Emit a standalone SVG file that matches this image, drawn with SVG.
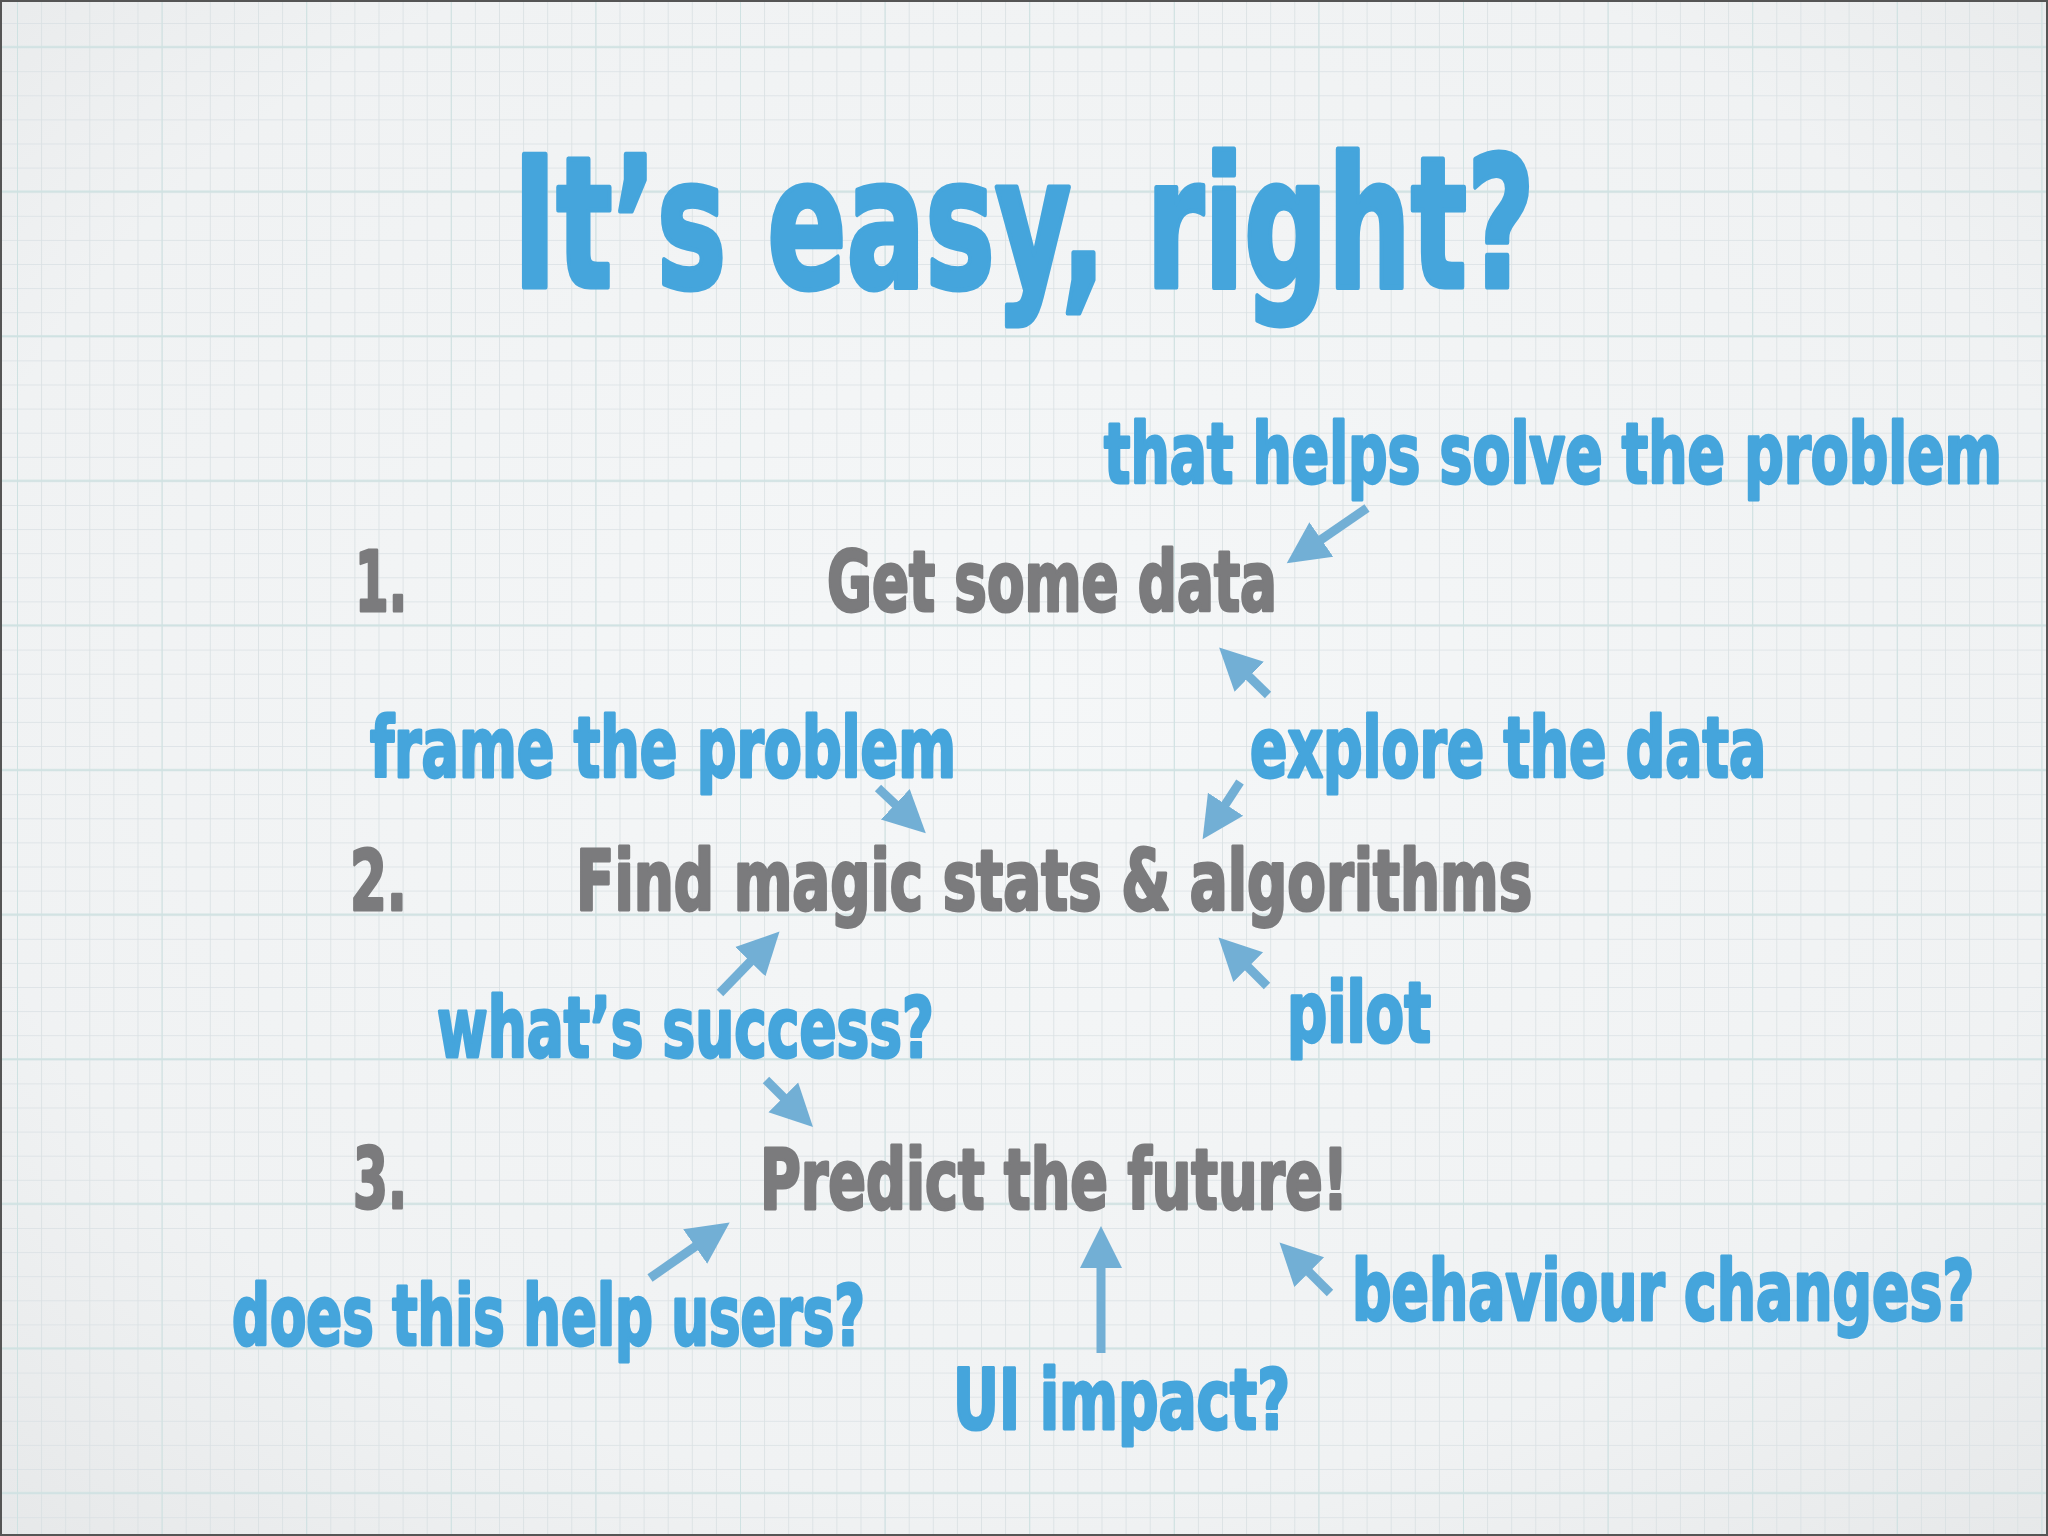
<svg xmlns="http://www.w3.org/2000/svg" width="2048" height="1536" viewBox="0 0 2048 1536">
<defs>
<radialGradient id="bg" cx="50%" cy="45%" r="75%">
<stop offset="0" stop-color="#f5f7f8"/>
<stop offset="0.7" stop-color="#f0f2f3"/>
<stop offset="1" stop-color="#e6e8e9"/>
</radialGradient>
<pattern id="minor" patternUnits="userSpaceOnUse" x="17" y="23" width="24.1" height="24.1">
<path d="M0,0 V24.1 M0,0 H24.1" stroke="#d9e0e3" stroke-width="1.6" fill="none"/>
</pattern>
<pattern id="major" patternUnits="userSpaceOnUse" x="17" y="-0.1" width="144.6" height="144.6">
<path d="M0,0 V144.6" stroke="#cfe2e2" stroke-width="2" fill="none"/>
<path d="M0,47 H144.6" stroke="#cfe2e2" stroke-width="2" fill="none"/>
</pattern>
<marker id="ah" markerUnits="userSpaceOnUse" markerWidth="46" markerHeight="46" refX="1" refY="22" orient="auto">
<path d="M0,1 L42,22 L0,43 Z" fill="#72afd5"/>
</marker>
<style>
.t{font-family:"DejaVu Sans Condensed","DejaVu Sans","Liberation Sans",sans-serif;font-weight:bold;stroke-linejoin:round;}
.b{fill:#45a5dc;stroke:#45a5dc;stroke-width:3;font-size:84px;}
.g{fill:#7b7b7d;stroke:#7b7b7d;stroke-width:3;font-size:84px;}
.title{fill:#45a5dc;stroke:#45a5dc;stroke-width:5;font-size:182px;}
.a{stroke:#72afd5;stroke-width:9;fill:none;marker-end:url(#ah);}
</style>
</defs>
<rect x="0" y="0" width="2048" height="1536" fill="url(#bg)"/>
<rect x="0" y="0" width="2048" height="1536" fill="url(#minor)"/>
<rect x="0" y="0" width="2048" height="1536" fill="url(#major)"/>
<rect x="1" y="1" width="2046" height="1534" fill="none" stroke="#555" stroke-width="2"/>

<g id="title"><text class="t title" transform="translate(513,287) scale(0.62,1)" x="0" y="0" textLength="1648" lengthAdjust="spacingAndGlyphs">It’s easy, right?</text></g>

<g id="step1">
<text class="t g" x="355" y="611" textLength="52" lengthAdjust="spacingAndGlyphs">1.</text>
<text class="t g" transform="translate(827,611) scale(0.72,1)" x="0" y="0" textLength="625" lengthAdjust="spacingAndGlyphs">Get some data</text>
</g>
<g id="step2">
<text class="t g" x="350" y="910" textLength="57" lengthAdjust="spacingAndGlyphs">2.</text>
<text class="t g" transform="translate(576,910) scale(0.72,1)" x="0" y="0" textLength="1328" lengthAdjust="spacingAndGlyphs">Find magic stats &amp; algorithms</text>
</g>
<g id="step3">
<text class="t g" x="353" y="1208" textLength="54" lengthAdjust="spacingAndGlyphs">3.</text>
<text class="t g" transform="translate(760,1209) scale(0.72,1)" x="0" y="0" textLength="817" lengthAdjust="spacingAndGlyphs">Predict the future!</text>
</g>

<g id="note-solve"><text class="t b" transform="translate(1104,483) scale(0.7,1)" x="0" y="0" textLength="1283" lengthAdjust="spacingAndGlyphs">that helps solve the problem</text></g>
<g id="note-frame"><text class="t b" transform="translate(370,777) scale(0.72,1)" x="0" y="0" textLength="814" lengthAdjust="spacingAndGlyphs">frame the problem</text></g>
<g id="note-explore"><text class="t b" transform="translate(1250,777) scale(0.72,1)" x="0" y="0" textLength="717" lengthAdjust="spacingAndGlyphs">explore the data</text></g>
<g id="note-success"><text class="t b" transform="translate(437,1057) scale(0.72,1)" x="0" y="0" textLength="690" lengthAdjust="spacingAndGlyphs">what’s success?</text></g>
<g id="note-pilot"><text class="t b" transform="translate(1287,1042) scale(0.72,1)" x="0" y="0" textLength="200" lengthAdjust="spacingAndGlyphs">pilot</text></g>
<g id="note-users"><text class="t b" transform="translate(232,1345) scale(0.72,1)" x="0" y="0" textLength="879" lengthAdjust="spacingAndGlyphs">does this help users?</text></g>
<g id="note-behaviour"><text class="t b" transform="translate(1352,1320) scale(0.7,1)" x="0" y="0" textLength="889" lengthAdjust="spacingAndGlyphs">behaviour changes?</text></g>
<g id="note-ui"><text class="t b" transform="translate(953,1429) scale(0.72,1)" x="0" y="0" textLength="468" lengthAdjust="spacingAndGlyphs">UI impact?</text></g>

<g id="connectors">
<line class="a" x1="1367" y1="508" x2="1320.5" y2="540"/>
<line class="a" x1="1268" y1="695" x2="1248.5" y2="676"/>
<line class="a" x1="1240" y1="782" x2="1225" y2="805"/>
<line class="a" x1="878" y1="788" x2="896" y2="805"/>
<line class="a" x1="720" y1="993" x2="751" y2="961"/>
<line class="a" x1="1267" y1="986" x2="1247.5" y2="966.5"/>
<line class="a" x1="766" y1="1080" x2="784" y2="1098"/>
<line class="a" x1="650" y1="1278" x2="696" y2="1246"/>
<line class="a" x1="1101" y1="1353" x2="1101" y2="1267"/>
<line class="a" x1="1330" y1="1293" x2="1308.5" y2="1271.5"/>
</g>
</svg>
